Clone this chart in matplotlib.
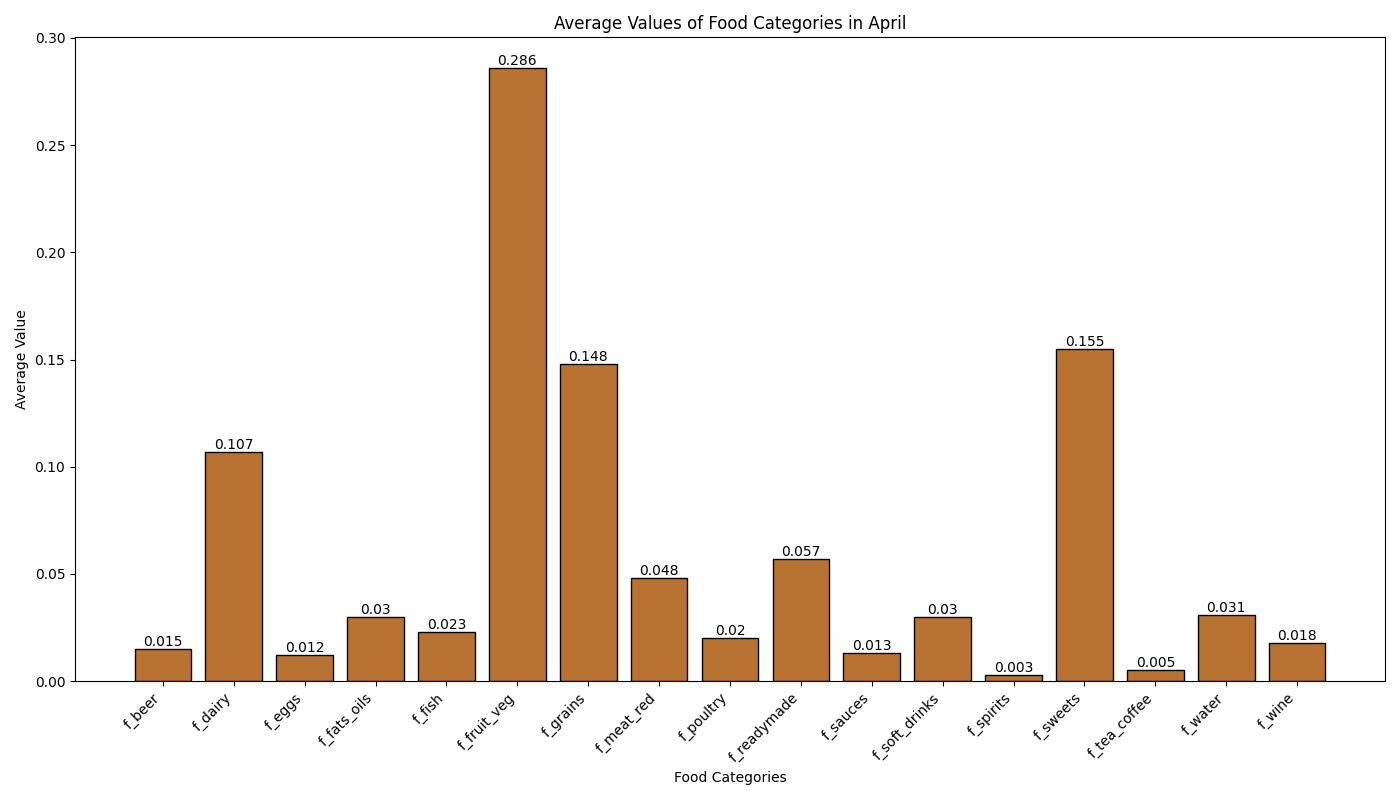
import matplotlib
matplotlib.use("Agg")
import matplotlib.pyplot as plt

categories = ["f_beer", "f_dairy", "f_eggs", "f_fats_oils", "f_fish", "f_fruit_veg", "f_grains",
              "f_meat_red", "f_poultry", "f_readymade", "f_sauces", "f_soft_drinks", "f_spirits",
              "f_sweets", "f_tea_coffee", "f_water", "f_wine"]
values = [0.015, 0.107, 0.012, 0.030, 0.023, 0.286, 0.148, 0.048, 0.020, 0.057, 0.013, 0.030,
          0.003, 0.155, 0.005, 0.031, 0.018]

fig, ax = plt.subplots(figsize=(14, 8), dpi=100)
bars = ax.bar(categories, values, color="#B87333", edgecolor="black")
for b, v in zip(bars, values):
    ax.text(b.get_x() + b.get_width() / 2, b.get_height(), str(round(v, 3)),
            ha="center", va="bottom", fontsize=10)
ax.set_title("Average Values of Food Categories in April")
ax.set_xlabel("Food Categories")
ax.set_ylabel("Average Value")
plt.xticks(rotation=45, ha="right")
plt.tight_layout()
fig.savefig("out.png")
